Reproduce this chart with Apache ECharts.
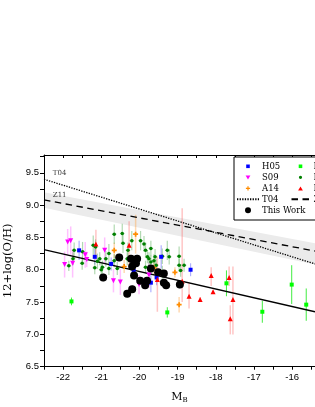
<!DOCTYPE html>
<html><head><meta charset="utf-8">
<script src="https://cdn.jsdelivr.net/npm/echarts/dist/echarts.min.js"></script>
<style>html,body{margin:0;padding:0;background:#fff}#c{width:315px;height:407px}</style>
</head><body><div id="c"></div>
<script>
// ---- data (x = M_B, y = 12+log(O/H), e = symmetric error or [lo,hi]) ----
const h05 = [[-21.58,8.30,0.15],[-21.17,8.20,0.12],[-20.74,8.09,0.1],[-19.43,8.20,0.18],[-18.66,8.00,0.1],[-19.70,7.80,0.15],[-20.15,7.98,0.1],[-19.55,7.88,0.12]];
const s09 = [[-21.88,8.43,0.2],[-21.80,8.45,0.22],[-21.96,8.08,0.2],[-21.75,8.10,0.22],[-21.42,8.23,0.2],[-21.38,8.16,0.12],[-20.91,8.30,0.2],[-20.68,7.83,0.18],[-20.50,7.81,0.2],[-20.01,7.77,0.15],[-19.75,7.92,0.2]];
const a14 = [[-20.66,8.30,0.12],[-20.10,8.55,0.3],[-18.96,7.46,0.12],[-19.07,7.96,0.08],[-19.62,8.03,0.1],[-20.40,8.05,0.1]];
const e05 = [[-21.78,7.51,0.06],[-19.27,7.34,0.08],[-17.72,7.79,0.2],[-16.78,7.35,0.17],[-16.01,7.77,0.3],[-15.63,7.46,0.25]];
const p10 = [[-21.85,8.06,0.08],[-21.71,8.30,0.12],[-21.74,8.17,0.1],[-21.49,8.28,0.15],[-21.50,8.10,0.1],[-21.21,8.38,0.15],[-21.15,8.35,0.12],[-21.04,8.17,0.1],[-21.10,8.13,0.12],[-21.17,8.03,0.1],[-21.00,8.00,0.1],[-20.97,8.04,0.1],[-20.88,8.17,0.12],[-20.80,8.25,0.15],[-20.80,8.02,0.1],[-20.66,8.55,0.15],[-20.66,8.14,0.1],[-20.58,8.02,0.1],[-20.45,8.56,0.15],[-20.43,8.41,0.15],[-20.30,8.30,0.12],[-20.32,8.17,0.1],[-20.20,8.45,0.15],[-19.97,8.45,0.15],[-19.88,8.40,0.12],[-19.84,8.30,0.12],[-19.79,8.20,0.1],[-19.75,8.17,0.1],[-19.84,8.04,0.1],[-19.70,8.33,0.12],[-19.70,8.12,0.1],[-19.62,8.14,0.1],[-19.59,8.20,0.12],[-19.56,8.07,0.1],[-19.40,8.21,0.12],[-19.40,7.96,0.1],[-19.27,8.30,0.15],[-19.22,8.20,0.12],[-18.96,8.21,0.15],[-18.96,8.07,0.1],[-18.92,7.99,0.1],[-18.83,8.07,0.1]];
const l16 = [[-21.14,8.40,[8.15,8.62]],[-20.27,8.38,[8.05,8.75]],[-19.53,7.85,[7.35,8.2]],[-18.88,7.82,[7.5,8.95]],[-18.70,7.59,[7.4,7.8]],[-18.41,7.54,[7.5,7.58]],[-18.12,7.91,[7.75,8.04]],[-18.07,7.66,[7.64,7.68]],[-17.65,7.88,[7.75,8.05]],[-17.62,7.24,[7.0,7.45]],[-17.55,7.54,[7.0,8.05]]];
const thisWork = [[-20.95,7.88],[-20.53,8.19],[-20.32,7.63],[-20.19,7.70],[-20.14,7.91],[-20.19,8.05],[-20.22,8.17],[-20.14,8.14],[-20.06,8.17],[-20.09,8.10],[-19.98,7.83],[-19.85,7.76],[-19.80,7.83],[-19.70,8.02],[-19.51,7.96],[-19.36,7.94],[-19.36,7.80],[-19.30,7.76],[-18.94,7.77]];
const thisWorkErr = 0.06;
// relations
const relX = [-22.5, -15.4];
const t04Y = [9.40, 8.09];
const z11Y = [9.08, 8.29];
const z11Lo = [8.96, 8.08];
const z11Hi = [9.20, 8.41];
const fitY = [8.31, 7.35];
const xMin = -22.5, xMax = -15.4, yMin = 6.5, yMax = 9.775;

const chart = echarts.init(document.getElementById('c'), null, {renderer:'canvas'});

function errData(arr){ return arr.map(d => Array.isArray(d[2]) ? [d[0], d[2][0], d[2][1]] : [d[0], d[1]-d[2], d[1]+d[2]]); }
function vBar(color, w){
  return function(p, api){
    const a = api.coord([api.value(0), api.value(1)]), b = api.coord([api.value(0), api.value(2)]);
    return {type:'line', shape:{x1:a[0],y1:a[1],x2:b[0],y2:b[1]}, style:{stroke:color, lineWidth:w}};
  };
}
function hBar(color, w, dx){
  return function(p, api){
    const a = api.coord([api.value(0)-dx, api.value(1)]), b = api.coord([api.value(0)+dx, api.value(1)]);
    return {type:'line', shape:{x1:a[0],y1:a[1],x2:b[0],y2:b[1]}, style:{stroke:color, lineWidth:w}};
  };
}
function errSeries(arr, color, w){
  return {type:'custom', coordinateSystem:'cartesian2d', renderItem:vBar(color, w), data:errData(arr), z:1, silent:true, encode:{x:0,y:[1,2]}};
}
const pts = arr => arr.map(d => [d[0], d[1]]);
const plusPath = 'path://M2,0H4V2H6V4H4V6H2V4H0V2H2Z';
const serif = 'DejaVu Serif';
// legend icons (10x10 frame so small glyphs keep their size)
const icSquare = 'path://M0,0M10,10M2,2H8V8H2Z';
const icTriDown = 'path://M0,0M10,10M1,2H9L5,8.5Z';
const icTriUp = 'path://M0,0M10,10M1,8.5H9L5,2Z';
const icPlus = 'path://M0,0M10,10M4,1.5H6V4H8.5V6H6V8.5H4V6H1.5V4H4Z';
const icDot = 'path://M0,0M10,10M5,2.3A2.7,2.7,0,1,1,4.99,2.3Z';
const hide = {opacity:0};

const option = {
  animation:false,
  backgroundColor:'#fff',
  grid:{left:44, top:155, width:271, height:211.7, outerBoundsMode:'none', containLabel:false},
  xAxis:[{
    type:'value', min:xMin, max:xMax, interval:0.5, position:'bottom',
    axisLine:{onZero:false, lineStyle:{color:'#000', width:1}},
    axisTick:{show:true, inside:false, length:3, lineStyle:{color:'#000', width:1}},
    axisLabel:{formatter:v => Number.isInteger(v) ? String(v) : '', color:'#000', fontSize:9.5, fontFamily:'Liberation Sans', margin:6, showMaxLabel:false, showMinLabel:true},
    splitLine:{show:false},
    name:'M{b|B}', nameLocation:'middle', nameGap:24,
    nameTextStyle:{color:'#000', fontFamily:serif, fontSize:11, rich:{b:{fontFamily:serif, fontSize:7, color:'#000', verticalAlign:'bottom', padding:[6,0,0,0]}}}
  },{
    type:'value', min:xMin, max:xMax, interval:0.5, position:'top',
    axisLine:{onZero:false, lineStyle:{color:'#000', width:1}},
    axisTick:{show:true, inside:true, length:3, lineStyle:{color:'#000', width:1}},
    axisLabel:{show:false}, splitLine:{show:false}
  }],
  yAxis:[{
    type:'value', min:yMin, max:yMax, interval:0.25, position:'left',
    axisLine:{show:true, onZero:false, lineStyle:{color:'#000', width:1}},
    axisTick:{show:true, inside:false, length:4, lineStyle:{color:'#000', width:1}},
    axisLabel:{formatter:v => (Math.abs(v*2 - Math.round(v*2)) < 1e-9) ? v.toFixed(1) : '', color:'#000', fontSize:9.5, fontFamily:'Liberation Sans', margin:5, showMaxLabel:false},
    splitLine:{show:false},
    name:'12+log(O/H)', nameLocation:'middle', nameGap:30, nameRotate:90,
    nameTextStyle:{color:'#000', fontFamily:serif, fontSize:11.5}
  }],
  legend:[{
    data:[{name:'H05', icon:icSquare},{name:'S09', icon:icTriDown},{name:'A14', icon:icPlus},{name:'T04', itemStyle:hide},{name:'This Work', icon:'circle'}],
    orient:'vertical', left:236, top:160.8, padding:0, itemGap:0,
    itemWidth:22, itemHeight:6, selectedMode:false, z:20, symbolKeepAspect:true,
    textStyle:{fontFamily:serif, fontSize:8.5, color:'#000', lineHeight:11, padding:[0,0,0,-2]}
  },{
    data:[{name:'E05', icon:icSquare},{name:'P10', icon:icDot},{name:'L16', icon:icTriUp},{name:'Z11', itemStyle:hide}],
    orient:'vertical', left:290.5, top:160.8, padding:0, itemGap:0,
    itemWidth:18, itemHeight:6, selectedMode:false, z:20, symbolKeepAspect:true,
    textStyle:{fontFamily:serif, fontSize:8.5, color:'#000', lineHeight:11, padding:[0,0,0,-1]}
  }],
  graphic:[{type:'rect', shape:{x:234, y:157, width:100, height:63}, style:{fill:'#fff', stroke:'#000', lineWidth:1}, z:15, silent:true}],
  series:[
    {type:'custom', coordinateSystem:'cartesian2d', silent:true, z:0, data:[[relX[0], z11Lo[0]]],
      renderItem:function(p, api){
        const up = relX.map((x,i)=>api.coord([x, z11Hi[i]]));
        const lo = relX.map((x,i)=>api.coord([x, z11Lo[i]])).reverse();
        return {type:'polygon', shape:{points:up.concat(lo)}, style:{fill:'#ebebeb', stroke:null}};
      }},
    errSeries(s09, 'rgba(255,80,255,0.35)', 1.5),
    errSeries(h05, 'rgba(80,80,255,0.45)', 1.2),
    errSeries(a14, 'rgba(255,160,60,0.4)', 1.5),
    errSeries(e05, 'rgba(0,230,0,0.75)', 1),
    errSeries(p10, 'rgba(60,160,60,0.4)', 1.2),
    {type:'custom', coordinateSystem:'cartesian2d', renderItem:hBar('rgba(60,160,60,0.5)', 1, 0.06), data:pts(p10), z:1, silent:true},
    errSeries(l16, 'rgba(255,90,90,0.35)', 1.5),
    errSeries(thisWork.map(d=>[d[0],d[1],thisWorkErr]), 'rgba(90,90,90,0.6)', 1),
    {name:'T04', type:'line', data:relX.map((x,i)=>[x,t04Y[i]]), symbol:'none', lineStyle:{color:'#000', width:1.3, type:[1.3,1.3]}, itemStyle:{color:'#000'}, z:3, silent:true},
    {name:'Z11', type:'line', data:relX.map((x,i)=>[x,z11Y[i]]), symbol:'none', lineStyle:{color:'#000', width:1.3, type:[6.5,4.5]}, itemStyle:{color:'#000'}, z:3, silent:true},
    {name:'fit', type:'line', data:relX.map((x,i)=>[x,fitY[i]]), symbol:'none', lineStyle:{color:'#000', width:1.3}, z:3, silent:true},
    {name:'P10', type:'scatter', data:pts(p10), symbol:'circle', symbolSize:3.5, itemStyle:{color:'#008000', opacity:1}, z:4},
    {name:'S09', type:'scatter', data:pts(s09), symbol:'triangle', symbolRotate:180, symbolSize:5, itemStyle:{color:'#ff00ff', opacity:1}, z:4},
    {name:'H05', type:'scatter', data:pts(h05), symbol:'rect', symbolSize:4, itemStyle:{color:'#0000ff', opacity:1}, z:4},
    {name:'A14', type:'scatter', data:pts(a14), symbol:plusPath, symbolSize:5, itemStyle:{color:'#ff8c00', opacity:1}, z:4},
    {name:'E05', type:'scatter', data:pts(e05), symbol:'rect', symbolSize:4, itemStyle:{color:'#00ff00', opacity:1}, z:4},
    {name:'L16', type:'scatter', data:pts(l16), symbol:'triangle', symbolSize:5, itemStyle:{color:'#ff0000', opacity:1}, z:4},
    {name:'This Work', type:'scatter', data:thisWork, symbol:'circle', symbolSize:8, itemStyle:{color:'#000', opacity:1}, z:5},
    {type:'scatter', data:[[-22.27, 9.49]], symbolSize:0, silent:true, label:{show:true, position:'right', distance:0, formatter:'T04', fontFamily:serif, fontSize:7, color:'#000'}},
    {type:'scatter', data:[[-22.27, 9.16]], symbolSize:0, silent:true, label:{show:true, position:'right', distance:0, formatter:'Z11', fontFamily:serif, fontSize:7, color:'#000'}}
  ]
};
chart.setOption(option);
</script></body></html>
